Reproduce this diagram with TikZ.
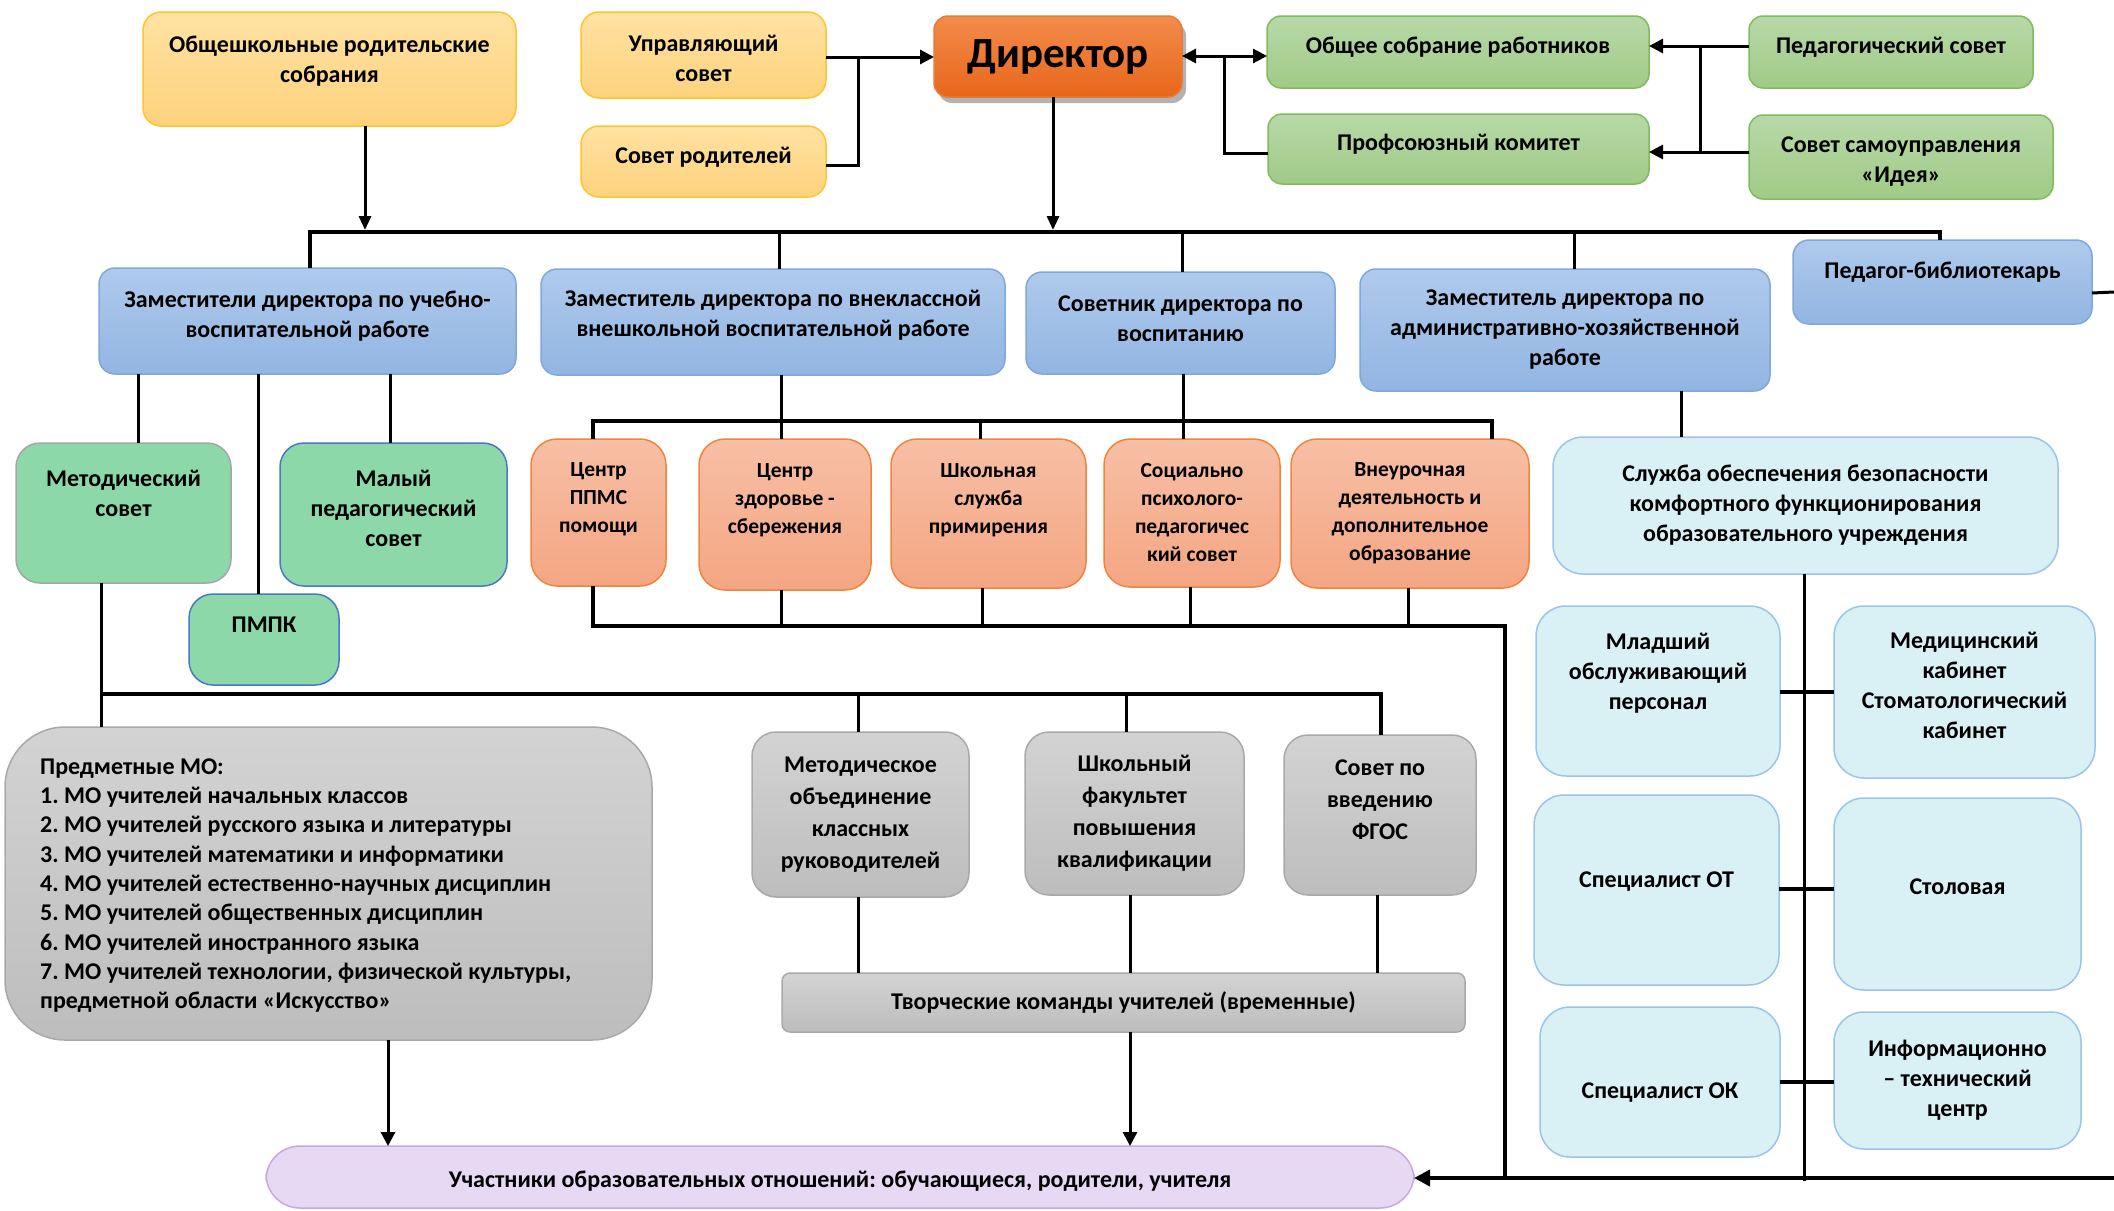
\documentclass[tikz,border=0pt]{standalone}
\usepackage{fontspec}
\setmainfont{Carlito}
\usetikzlibrary{arrows.meta,shadows}
\definecolor{ytop}{HTML}{FFE2A3}\definecolor{ybot}{HTML}{FDD27C}\definecolor{ydraw}{HTML}{FFC52B}
\definecolor{otop}{HTML}{F38C4C}\definecolor{obot}{HTML}{E8661A}\definecolor{odraw}{HTML}{E87B35}
\definecolor{gtop}{HTML}{B7D9A8}\definecolor{gbot}{HTML}{A1CA87}\definecolor{gdraw}{HTML}{80BC5E}
\definecolor{btop}{HTML}{AFCAEC}\definecolor{bbot}{HTML}{92B5E2}\definecolor{bdraw}{HTML}{7FA8DC}
\definecolor{mint}{HTML}{8CD8A8}\definecolor{mdrawa}{HTML}{A6A6A6}\definecolor{mdrawb}{HTML}{4A78C8}
\definecolor{stop}{HTML}{F7BFA5}\definecolor{sbot}{HTML}{F4A683}\definecolor{sdraw}{HTML}{F0843C}
\definecolor{cfill}{HTML}{D9F0F5}\definecolor{cdraw}{HTML}{9CC4E8}
\definecolor{rtop}{HTML}{D3D3D3}\definecolor{rbot}{HTML}{BDBDBD}\definecolor{rdraw}{HTML}{A9A9A9}
\definecolor{lfill}{HTML}{E7D8F3}\definecolor{ldraw}{HTML}{C8A8E0}
\tikzset{
  base/.style={rounded corners=#1, line width=1.5pt, inner sep=0pt, outer sep=0pt},
  ybox/.style={base=18pt, draw=ydraw, top color=ytop, bottom color=ybot},
  dirbox/.style={base=14pt, draw=odraw, top color=otop, bottom color=obot,
     drop shadow={shadow xshift=4pt, shadow yshift=-6pt, opacity=0.3, fill=black}},
  gbox/.style={base=14pt, draw=gdraw, top color=gtop, bottom color=gbot},
  bbox/.style={base=16pt, draw=bdraw, top color=btop, bottom color=bbot},
  mbox/.style={base=24pt, draw=#1, fill=mint},
  sbox/.style={base=26pt, draw=sdraw, top color=stop, bottom color=sbot},
  cbox/.style={base=30pt, draw=cdraw, fill=cfill},
  rbox/.style={base=#1, draw=rdraw, top color=rtop, bottom color=rbot},
  lbox/.style={base=34pt, draw=ldraw, fill=lfill},
  lbl/.style={font=\bfseries\fontsize{24}{30}\selectfont, align=center, inner sep=0pt, text=black},
  sml/.style={font=\bfseries\fontsize{21.5}{28}\selectfont},
  con/.style={line width=3pt},
  bus/.style={line width=4pt},
  arr/.style={con, -{Triangle[length=14pt,width=14pt]}},
  darr/.style={con, {Triangle[length=14pt,width=14pt]}-{Triangle[length=14pt,width=14pt]}},
}
% style, name, x1, y1, x2, y2, text, text shift up, label options
\newcommand\bx[9]{%
  \node[#1, minimum width={(#5-#3)*1pt}, minimum height={(#6-#4)*1pt}] (#2) at ({(#3+#5)/2},{(#4+#6)/2}) {};
  \node[lbl,#9] (#2-t) at ({(#3+#5)/2},{(#4+#6)/2-(#8)}) {#7};}
\begin{document}
\frenchspacing
\begin{tikzpicture}[x=1pt,y=-1pt]
\useasboundingbox (0,0) rectangle (2114,1210);
% ---------- top row
\bx{ybox}{obsh}{143}{12}{516}{126}{Общешкольные родительские\\собрания}{8}{}
\bx{ybox}{upr}{581}{12}{826}{98}{Управляющий\\совет}{-3}{}
\bx{ybox}{sovrod}{581}{126}{826}{197}{Совет родителей}{4}{}
\bx{dirbox}{dir}{934}{16}{1182}{97}{Директор}{0}{font=\bfseries\fontsize{43}{48}\selectfont}
\bx{gbox}{obsob}{1267}{16}{1649}{88}{Общее собрание работников}{5}{}
\bx{gbox}{prof}{1268}{114}{1649}{184}{Профсоюзный комитет}{5}{}
\bx{gbox}{pedsov}{1749}{16}{2033}{88}{Педагогический совет}{5}{}
\bx{gbox}{samoupr}{1749}{115}{2053}{199}{Совет самоуправления\\«Идея»}{-5}{}
% ---------- deputies
\bx{bbox}{zuvr}{99}{268}{516}{374}{Заместители директора по учебно-\\воспитательной работе}{5}{}
\bx{bbox}{zvnekl}{541}{269}{1005}{375}{Заместитель директора по внеклассной\\внешкольной воспитательной работе}{7}{}
\bx{bbox}{sovetnik}{1026}{272}{1335}{374}{Советник директора по\\воспитанию}{4}{}
\bx{bbox}{zahr}{1360}{269}{1770}{391}{Заместитель директора по\\административно-хозяйственной\\работе}{0}{}
\bx{bbox}{lib}{1793}{240}{2092}{324}{Педагог-библиотекарь}{10}{}
% ---------- green councils
\bx{mbox=mdrawa}{metsov}{16}{443}{231}{583}{Методический\\совет}{20}{}
\bx{mbox=mdrawb}{malyi}{280}{443}{507}{586}{Малый\\педагогический\\совет}{6}{}
\bx{mbox=mdrawb}{pmpk}{189}{594}{339}{685}{ПМПК}{15}{}
% ---------- salmon row
\bx{sbox}{ppms}{531}{439}{666}{586}{Центр\\ППМС\\помощи}{13}{sml}
\bx{sbox}{zdor}{699}{439}{871}{590}{Центр\\здоровье -\\сбережения}{14}{sml}
\bx{sbox}{shsl}{891}{439}{1086}{588}{Школьная\\служба\\примирения}{13}{sml}
\bx{sbox}{soc}{1104}{439}{1280}{587}{Социально\\психолого-\\педагогичес\\кий совет}{0}{sml}
\bx{sbox}{vneur}{1291}{439}{1529}{588}{Внеурочная\\деятельность и\\дополнительное\\образование}{0}{sml}
% ---------- service block
\bx{cbox}{sluzhba}{1553}{437}{2058}{574}{Служба обеспечения безопасности\\комфортного функционирования\\образовательного учреждения}{0}{}
\bx{cbox}{mladsh}{1536}{606}{1780}{776}{Младший\\обслуживающий\\персонал}{18}{}
\bx{cbox}{med}{1834}{606}{2095}{778}{Медицинский\\кабинет\\Стоматологический\\кабинет}{7}{}
\bx{cbox}{spot}{1534}{795}{1779}{985}{Специалист ОТ}{8}{}
\bx{cbox}{stol}{1834}{798}{2081}{990}{Столовая}{7}{}
\bx{cbox}{spok}{1540}{1007}{1780}{1157}{Специалист ОК}{-11}{}
\bx{cbox}{inf}{1834}{1012}{2081}{1149}{Информационно\\– технический\\центр}{0}{}
% ---------- gray block
\bx{rbox=60pt}{predmo}{5}{727}{652}{1040}{Предметные МО:\\1. МО учителей начальных классов\\2. МО учителей русского языка и литературы\\3. МО учителей математики и информатики\\4. МО учителей естественно-научных дисциплин\\5. МО учителей общественных дисциплин\\6. МО учителей иностранного языка\\7. МО учителей технологии, физической культуры,\\предметной области «Искусство»}{-2}{align=left, anchor=west, xshift=-288.5pt, font=\bfseries\fontsize{24}{29.3}\selectfont}
\bx{rbox=24pt}{metob}{752}{732}{969}{897}{Методическое\\объединение\\классных\\руководителей}{0}{font=\bfseries\fontsize{24}{32}\selectfont}
\bx{rbox=24pt}{shfak}{1025}{732}{1244}{895}{Школьный\\факультет\\повышения\\квалификации}{0}{font=\bfseries\fontsize{24}{32}\selectfont}
\bx{rbox=24pt}{fgos}{1284}{735}{1476}{895}{Совет по\\введению\\ФГОС}{15}{font=\bfseries\fontsize{24}{32}\selectfont}
\bx{rbox=8pt}{tvorch}{782}{973}{1465}{1032}{Творческие команды учителей (временные)}{0}{}
\bx{lbox}{uchast}{266}{1146}{1414}{1208}{Участники образовательных отношений: обучающиеся, родители, учителя}{-4}{}
% ---------- connectors: top
\coordinate (j1) at (858,57);
\draw[arr] (upr.east |- j1) -- (dir.west |- j1);
\draw[con] (sovrod.east |- 0,165) -| (j1);
\coordinate (j2) at (1224,56);
\draw[darr] (dir.east |- j2) -- (obsob.west |- j2);
\draw[con] (prof.west |- 0,153) -| (j2);
\coordinate (j3) at (1700,46);
\draw[arr] (pedsov.west |- j3) -- (obsob.east |- j3);
\draw[arr] (samoupr.west |- 0,152) -- (prof.east |- 0,152);
\draw[con] (j3) -- (1700,152);
% ---------- main bus
\coordinate (busL) at (310,232);
\coordinate (busR) at (1940,232);
\draw[con, -{Triangle[length=14pt,width=12pt]}] (obsh.south -| 365,0) -- (365,230);
\draw[con, -{Triangle[length=14pt,width=12pt]}] (dir.south -| 1053,0) -- (1053,230);
\draw[bus] (zuvr.north -| busL) -- (busL) -- (busR) -- (lib.north -| busR);
\draw[con] (779,232) -- (zvnekl.north -| 779,0);
\draw[con] (1182,232) -- (sovetnik.north -| 1182,0);
\draw[con] (1574,232) -- (zahr.north -| 1574,0);
% ---------- under zuvr
\draw[con] (zuvr.south -| 138,0) -- (metsov.north -| 138,0);
\draw[con] (zuvr.south -| 258,0) -- (pmpk.north -| 258,0);
\draw[con] (zuvr.south -| 390,0) -- (malyi.north -| 390,0);
% ---------- salmon buses
\draw[bus] (ppms.north -| 593,0) -- (593,421) -- (1492,421) -- (vneur.north -| 1492,0);
\draw[con] (zvnekl.south -| 781,0) -- (zdor.north -| 781,0);
\draw[con] (sovetnik.south -| 1183,0) -- (soc.north -| 1183,0);
\draw[con] (980,421) -- (shsl.north -| 980,0);
\coordinate (low) at (1505,1176);
\draw[bus] (ppms.south -| 593,0) -- (593,626) -- (1505,626) -- (low);
\draw[con] (zdor.south -| 781,0) -- (781,626);
\draw[con] (shsl.south -| 982,0) -- (982,626);
\draw[con] (soc.south -| 1190,0) -- (1190,626);
\draw[con] (vneur.south -| 1408,0) -- (1408,626);
% ---------- methodical bus
\draw[con] (metsov.south -| 101,0) -- (predmo.north -| 101,0);
\draw[bus] (101,694) -- (1381,694) -- (fgos.north -| 1381,0);
\draw[con] (858,694) -- (metob.north -| 858,0);
\draw[con] (1126,694) -- (shfak.north -| 1126,0);
\draw[con] (metob.south -| 858,0) -- (tvorch.north -| 858,0);
\draw[con] (shfak.south -| 1130,0) -- (tvorch.north -| 1130,0);
\draw[con] (fgos.south -| 1377,0) -- (tvorch.north -| 1377,0);
\draw[arr] (tvorch.south -| 1130,0) -- (uchast.north -| 1130,0);
\draw[arr] (predmo.south -| 388,0) -- (uchast.north -| 388,0);
% ---------- service lines
\draw[con] (zahr.south -| 1681,0) -- (sluzhba.north -| 1681,0);
\draw[con] (sluzhba.south -| 1804,0) -- (1804,1181);
\draw[bus] (mladsh.east |- 0,692) -- (med.west |- 0,692);
\draw[bus] (spot.east |- 0,889) -- (stol.west |- 0,889);
\draw[bus] (spok.east |- 0,1082) -- (inf.west |- 0,1082);
% ---------- right edge
\coordinate (edgeA) at (2114,292);
\coordinate (edgeB) at (2114,1178);
\draw[con] (lib.east |- 0,293) -- (edgeA);
\draw[bus, -{Triangle[length=16pt,width=16pt]}] (edgeB) -- (uchast.east |- edgeB);
\end{tikzpicture}
\end{document}
